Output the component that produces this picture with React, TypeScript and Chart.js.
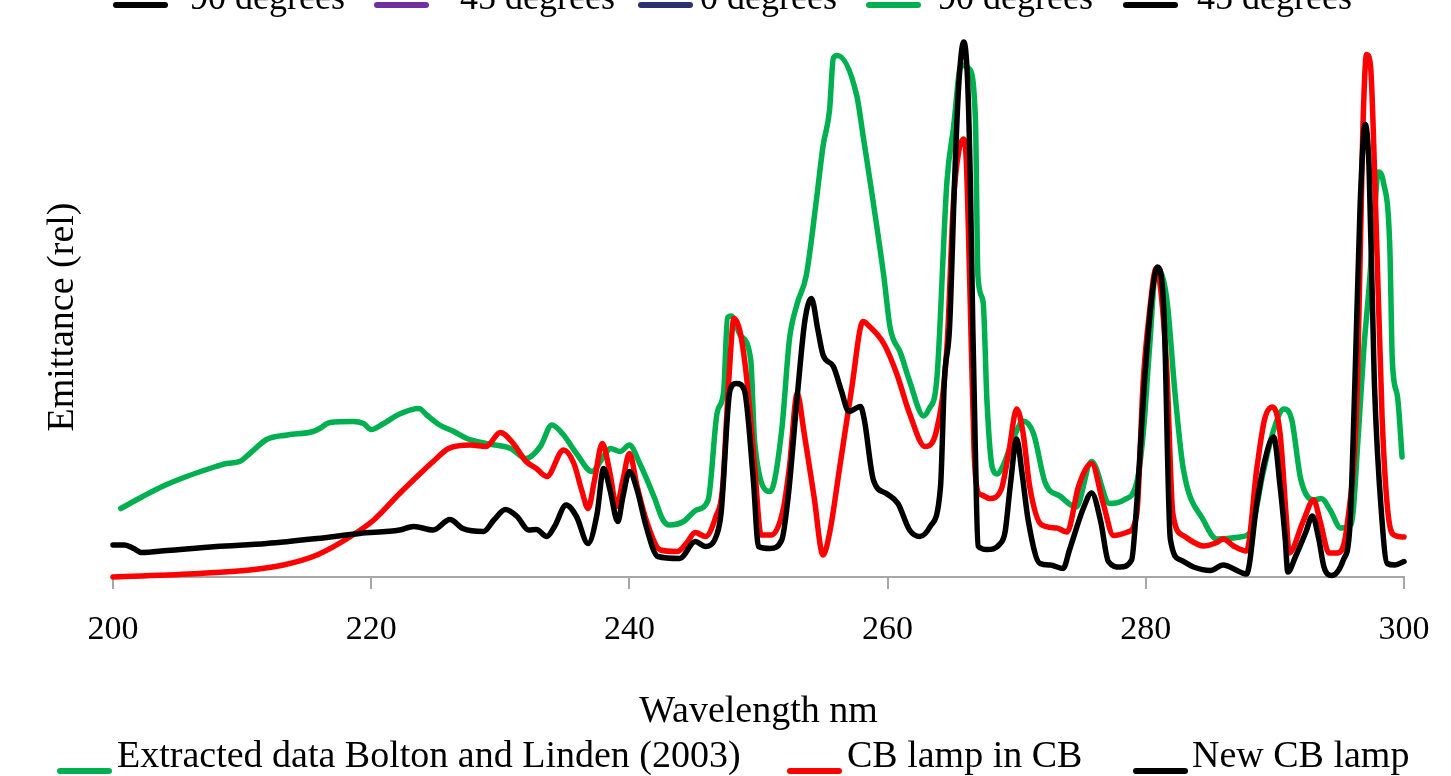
import React, { useEffect, useRef } from "react";
import { Chart, registerables } from "chart.js";

Chart.register(...registerables);

// ---------- DATA ----------
const xTicks = [200, 220, 240, 260, 280, 300];

const seriesLabels = [
  "Extracted data Bolton and Linden (2003)",
  "CB lamp in CB",
  "New CB lamp",
];
const seriesColors = ["#00B050", "#FF0000", "#000000"];

// Cropped legend of an adjacent figure (only its lower part is visible)
const topLegendLabels = ["90 degrees", "45 degrees", "0 degrees", "90 degrees", "45 degrees"];
const topLegendColors = ["#000000", "#7030A0", "#2B2F74", "#00B050", "#000000"];

// Extracted data Bolton and Linden (2003)
const greenWl = [
  200.6, 202.3, 203.9, 205.7, 207.5, 208.8, 209.8, 210.6, 211.9, 213.5, 215.5, 216.0, 216.8, 218.6, 219.4,
  220.0, 220.9, 222.2, 223.7, 224.3, 225.3, 226.4, 227.4, 228.9, 230.8, 232.0, 233.1, 234.0, 234.9, 235.9,
  237.1, 238.0, 238.5, 239.3, 240.0, 240.8, 241.9, 242.6, 243.1, 244.2, 245.2, 246.1, 246.8, 247.3, 247.6,
  247.9, 248.6, 249.4, 249.7, 250.9, 251.8, 252.4, 253.0, 253.7, 254.5, 255.0, 255.5, 255.8, 256.1, 257.6,
  258.1, 259.7, 260.2, 261.0, 261.7, 262.8, 263.2, 263.8, 264.6, 265.1, 265.7, 266.3, 266.8, 267.0, 267.4,
  267.7, 268.1, 268.5, 268.9, 269.9, 270.5, 271.3, 272.2, 273.4, 274.6, 275.8, 277.2, 278.3, 279.3, 279.8,
  280.3, 280.8, 281.6, 282.3, 282.9, 284.5, 285.5, 287.3, 288.1, 289.1, 289.9, 290.7, 291.3, 292.0, 293.0,
  293.6, 294.3, 295.1, 295.9, 296.5, 296.9, 297.3, 297.7, 298.0, 298.4, 298.9, 299.1, 299.5, 299.85,
];
const greenVal = [
  13.7, 16.1, 18.2, 20.1, 21.7, 22.7, 23.1, 24.7, 27.5, 28.4, 29.1, 29.7, 30.9, 31.1, 30.7,
  29.5, 30.6, 32.6, 33.7, 32.4, 30.4, 29.1, 27.7, 26.7, 25.7, 23.7, 26.1, 30.4, 28.4, 24.7,
  21.1, 24.1, 25.7, 25.1, 26.4, 22.7, 16.1, 11.4, 10.4, 11.1, 13.4, 15.4, 32.9, 37.1, 51.9,
  52.2, 48.3, 43.4, 27.0, 17.1, 29.4, 47.6, 54.7, 60.3, 75.7, 86.2, 93.3, 103.8, 104.3, 96.4,
  88.3, 60.3, 49.8, 44.8, 39.2, 32.2, 33.6, 39.2, 79.2, 89.8, 102.4, 101.7, 91.9, 60.0, 55.0,
  35.0, 22.0, 20.6, 22.0, 28.7, 31.2, 28.7, 18.9, 16.1, 14.0, 23.1, 14.7, 15.4, 18.9, 28.7,
  46.2, 61.7, 56.1, 35.7, 21.7, 11.2, 7.6, 8.0, 9.0, 21.0, 29.4, 33.6, 31.5, 19.6, 15.4,
  15.7, 13.3, 9.8, 10.5, 30.0, 46.0, 58.0, 72.0, 81.0, 79.0, 66.0, 43.0, 36.0, 24.0,
];

// CB lamp in CB
const redWl = [
  200.0, 206.7, 210.6, 213.2, 215.8, 218.4, 220.2, 222.2, 223.8, 224.8, 226.0, 227.7, 228.9, 230.0, 231.0,
  232.0, 232.8, 233.6, 234.9, 235.7, 236.3, 236.8, 237.3, 237.9, 238.5, 239.0, 239.5, 240.0, 240.6, 241.3,
  242.4, 243.7, 244.4, 245.1, 245.9, 246.7, 247.2, 247.7, 248.1, 248.6, 249.1, 249.7, 250.2, 251.0, 251.9,
  252.4, 253.0, 253.5, 254.3, 255.0, 255.5, 256.3, 257.2, 258.1, 258.6, 259.7, 260.7, 261.7, 262.9, 263.8,
  264.6, 265.1, 265.5, 265.9, 266.1, 266.4, 266.7, 267.0, 267.3, 267.9, 268.8, 269.4, 270.0, 270.5, 271.0,
  271.9, 273.1, 273.9, 274.8, 275.8, 276.7, 277.5, 278.6, 279.3, 279.8, 280.3, 280.8, 281.6, 282.1, 282.9,
  284.5, 285.5, 286.0, 286.8, 287.8, 288.6, 289.2, 289.8, 290.4, 290.9, 291.1, 292.2, 293.0, 293.5, 294.2,
  294.8, 295.6, 296.4, 296.8, 297.1, 297.4, 297.8, 298.3, 298.8, 299.3, 300.0,
];
const redVal = [
  0.0, 0.7, 1.4, 2.4, 4.4, 8.1, 11.4, 16.7, 20.7, 23.1, 25.7, 26.4, 26.1, 28.9, 26.7,
  23.1, 21.7, 20.1, 25.4, 22.7, 17.4, 13.7, 19.4, 26.7, 20.7, 14.1, 19.4, 24.7, 18.1, 11.4,
  5.4, 5.1, 6.7, 8.9, 8.1, 12.1, 17.4, 39.4, 51.7, 48.7, 39.4, 22.1, 8.4, 8.4, 13.4,
  22.1, 36.7, 29.4, 16.1, 4.4, 8.7, 22.1, 37.4, 51.1, 50.1, 46.7, 40.7, 32.7, 26.1, 29.4,
  46.1, 75.0, 85.0, 87.6, 83.0, 55.0, 25.0, 17.0, 16.4, 15.7, 17.5, 25.2, 33.6, 28.7, 18.2,
  10.5, 9.8, 9.0, 18.2, 22.7, 14.7, 8.3, 9.0, 12.6, 39.2, 53.3, 61.7, 42.7, 12.6, 8.3,
  6.2, 6.9, 7.6, 6.2, 5.2, 21.7, 31.5, 34.0, 28.7, 11.2, 4.8, 11.2, 15.4, 11.2, 4.8,
  4.8, 10.5, 39.2, 88.3, 104.5, 102.4, 74.3, 32.2, 11.9, 8.3, 8.0,
];

// New CB lamp
const blackWl = [
  200.0, 200.9, 201.6, 202.2, 204.2, 208.0, 211.9, 215.8, 219.1, 222.2, 223.3, 224.8, 226.1, 227.1, 228.7,
  229.5, 230.4, 231.3, 232.2, 232.8, 233.6, 234.2, 235.1, 235.9, 236.8, 237.5, 238.0, 238.5, 239.1, 239.5,
  240.0, 240.6, 241.3, 242.2, 243.9, 245.1, 245.9, 246.8, 247.1, 247.8, 248.3, 248.9, 249.6, 250.0, 250.9,
  251.8, 252.3, 253.0, 253.6, 254.1, 254.6, 255.0, 255.8, 256.4, 257.0, 257.9, 258.2, 258.9, 259.9, 260.8,
  261.7, 262.5, 263.3, 264.1, 264.4, 264.8, 265.2, 265.5, 265.9, 266.2, 266.4, 266.6, 266.8, 267.0, 267.7,
  268.7, 269.1, 269.5, 270.0, 270.4, 270.9, 271.8, 272.6, 273.6, 274.1, 275.2, 275.8, 276.5, 277.1, 278.0,
  278.9, 279.3, 279.9, 280.5, 280.9, 281.4, 281.9, 282.7, 283.7, 285.0, 286.0, 287.3, 287.8, 288.6, 289.2,
  289.9, 290.4, 290.8, 291.0, 291.6, 292.4, 292.9, 293.4, 293.8, 294.4, 295.3, 295.8, 296.2, 296.6, 297.0,
  297.3, 297.7, 298.3, 298.7, 299.3, 300.0,
];
const blackVal = [
  6.4, 6.4, 5.7, 4.9, 5.3, 6.1, 6.7, 7.7, 8.7, 9.4, 10.1, 9.4, 11.5, 9.7, 9.1,
  11.4, 13.5, 12.1, 9.4, 9.5, 8.1, 10.1, 14.4, 12.1, 6.7, 12.7, 21.7, 17.4, 11.1, 16.1,
  21.1, 17.4, 10.1, 4.1, 3.7, 7.1, 6.1, 8.7, 12.7, 37.4, 38.7, 37.4, 19.4, 6.1, 5.7,
  7.4, 16.1, 36.1, 51.4, 55.7, 49.4, 44.4, 42.1, 37.4, 33.1, 34.1, 31.4, 19.4, 16.7, 14.7,
  9.4, 8.1, 10.1, 18.1, 39.4, 50.0, 80.0, 98.0, 107.0, 99.0, 80.0, 50.0, 25.0, 6.2, 5.5,
  6.6, 9.0, 18.2, 27.6, 21.0, 11.2, 2.7, 2.4, 1.7, 5.5, 14.0, 16.8, 11.2, 3.1, 2.0,
  3.4, 14.7, 39.2, 56.8, 62.0, 53.3, 7.6, 3.4, 2.0, 1.3, 2.4, 1.0, 0.6, 14.7, 23.1,
  28.0, 18.2, 7.6, 1.0, 4.1, 9.0, 12.2, 7.6, 2.0, 0.3, 3.4, 9.8, 39.2, 74.3, 90.5,
  81.3, 39.2, 11.2, 2.7, 2.4, 3.1,
];

const FONT = '"Liberation Serif", "Times New Roman", serif';

function toPoints(wl: number[], val: number[]) {
  return wl.map((x, i) => ({ x, y: val[i] }));
}

export default function App() {
  const canvasRef = useRef<HTMLCanvasElement | null>(null);

  useEffect(() => {
    const canvas = canvasRef.current;
    if (!canvas) return;

    const legendPlugin = {
      id: "customLegends",
      afterDraw(chart: any) {
        const ctx = chart.ctx as CanvasRenderingContext2D;
        ctx.save();
        ctx.lineCap = "round";
        ctx.textBaseline = "alphabetic";
        ctx.textAlign = "left";

        // cropped legend at the very top
        const topLineX = [113, 374, 638, 866, 1123];
        const topTextX = [190, 460, 700, 938, 1197];
        ctx.font = `36px ${FONT}`;
        topLegendLabels.forEach((label, i) => {
          ctx.strokeStyle = topLegendColors[i];
          ctx.lineWidth = 6;
          ctx.beginPath();
          ctx.moveTo(topLineX[i] + 3, 5);
          ctx.lineTo(topLineX[i] + 52, 5);
          ctx.stroke();
          ctx.fillStyle = "#000000";
          ctx.fillText(label, topTextX[i], 9);
        });

        // bottom legend
        const botLineX = [57, 787, 1133];
        const botTextX = [117, 847, 1192];
        ctx.font = `38px ${FONT}`;
        chart.data.datasets.forEach((ds: any, i: number) => {
          ctx.strokeStyle = ds.borderColor;
          ctx.lineWidth = 6;
          ctx.beginPath();
          ctx.moveTo(botLineX[i] + 3, 771);
          ctx.lineTo(botLineX[i] + 52, 771);
          ctx.stroke();
          ctx.fillStyle = "#000000";
          ctx.fillText(ds.label, botTextX[i], 767);
        });
        ctx.restore();
      },
    };

    const orders = [3, 2, 1];
    const datasets = [
      toPoints(greenWl, greenVal),
      toPoints(redWl, redVal),
      toPoints(blackWl, blackVal),
    ].map((data, i) => ({
      label: seriesLabels[i],
      data,
      borderColor: seriesColors[i],
      backgroundColor: seriesColors[i],
      borderWidth: 5.5,
      pointRadius: 0,
      pointHoverRadius: 0,
      fill: false,
      cubicInterpolationMode: "monotone" as const,
      borderJoinStyle: "round" as const,
      borderCapStyle: "round" as const,
      clip: false as const,
      order: orders[i],
    }));

    const X_AXIS_HEIGHT = 160;

    const chart = new Chart(canvas, {
      type: "line",
      data: { datasets },
      options: {
        animation: false,
        responsive: false,
        devicePixelRatio: 1,
        layout: { padding: { left: 0, right: 47, top: 57, bottom: 776 - 577 - X_AXIS_HEIGHT } },
        plugins: {
          legend: { display: false },
          tooltip: { enabled: false },
          title: { display: false },
        },
        scales: {
          x: {
            type: "linear",
            min: 200,
            max: 300,
            afterFit: (scale: any) => {
              scale.height = X_AXIS_HEIGHT;
            },
            afterBuildTicks: (scale: any) => {
              scale.ticks = xTicks.map((v) => ({ value: v }));
            },
            ticks: {
              autoSkip: false,
              maxRotation: 0,
              padding: 21,
              color: "#000000",
              font: { family: FONT, size: 34 },
            },
            grid: {
              display: true,
              drawOnChartArea: false,
              drawTicks: true,
              tickLength: 12,
              color: "#A6A6A6",
              lineWidth: 2,
            },
            border: { display: true, color: "#A6A6A6", width: 2 },
            title: {
              display: true,
              text: "Wavelength nm",
              color: "#000000",
              font: { family: FONT, size: 38 },
              padding: { top: 0, bottom: 2 },
            },
          },
          y: {
            type: "linear",
            min: 0,
            max: 104,
            afterFit: (scale: any) => {
              scale.width = 113;
            },
            ticks: { display: false },
            grid: { display: false },
            border: { display: false },
            title: {
              display: true,
              text: "Emittance (rel)",
              color: "#000000",
              font: { family: FONT, size: 38 },
              padding: { top: 40, bottom: 0 },
            },
          },
        },
      },
      plugins: [legendPlugin],
    });

    return () => {
      chart.destroy();
    };
  }, []);

  return (
    <div
      style={{
        position: "fixed",
        left: 0,
        top: 0,
        width: 1451,
        height: 776,
        overflow: "hidden",
        background: "#FFFFFF",
      }}
    >
      <canvas ref={canvasRef} width={1451} height={776} style={{ display: "block", width: 1451, height: 776 }} />
    </div>
  );
}
